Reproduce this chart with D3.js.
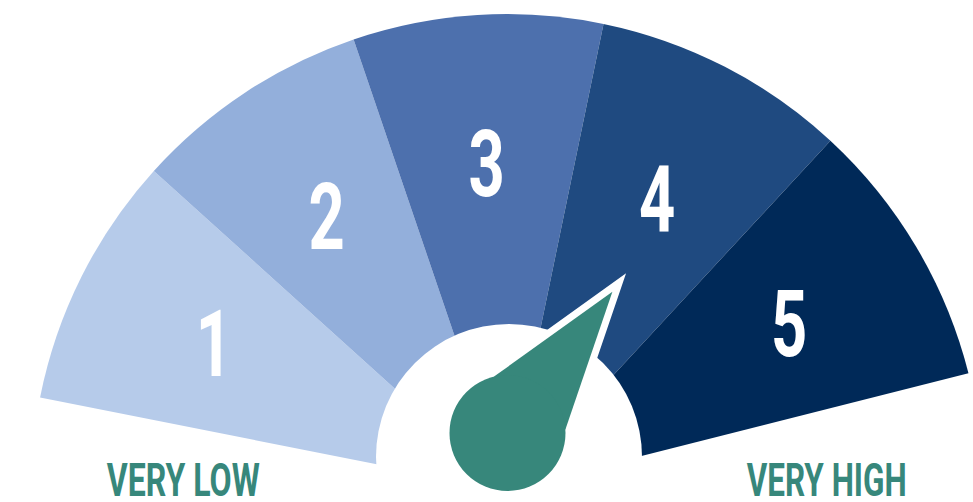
<!DOCTYPE html>
<html>
<head>
<meta charset="utf-8">
<script src="https://cdn.jsdelivr.net/npm/d3@7"></script>
<style>
  body { margin: 0; background: #fff; }
  #viz { width: 973px; height: 502px; }
  text { font-family: Roboto, "DejaVu Sans Condensed", sans-serif; font-weight: bold; }
</style>
</head>
<body>
<svg id="viz" width="973" height="502"></svg>
<script>
// gauge data
const levels = ["1", "2", "3", "4", "5"]
const level_colors = ["#b6cbea", "#93afdb", "#4d70ad", "#1f4a80", "#002958"]
const end_labels = ["VERY LOW", "VERY HIGH"]
const value = 3.8

const svg = d3.select("#viz"),
    cx = 507, cy = 490,
    outer_r = 476,
    label_r = 328,
    hub = { x: 507.5, y: 433, r: 58 },
    needle_len = 176,
    teal = "#37877b"

// boundaries between levels (degrees, clockwise from top)
const angle = d3.scaleLinear()
    .domain([0, 1, 2, 3, 4, 5])
    .range([-78.8, -47.9, -18.8, 11.7, 42.8, 75.8])

const rad = d => d * Math.PI / 180

const arc = d3.arc()
    .innerRadius(0)
    .outerRadius(outer_r)
    .startAngle(d => rad(angle(d.i)))
    .endAngle(d => rad(angle(d.i + 1)))

const segs = levels.map((l, i) => ({ label: l, i: i, color: level_colors[i] }))

const g = svg.append("g").attr("transform", `translate(${cx},${cy})`)

g.selectAll("path.seg")
    .data(segs)
    .enter().append("path")
    .attr("class", "seg")
    .attr("d", arc)
    .attr("fill", d => d.color)

g.selectAll("text.level")
    .data(segs)
    .enter().append("text")
    .attr("class", "level")
    .attr("transform", d => {
        let a = rad(angle(d.i + 0.5))
        return `translate(${label_r * Math.sin(a)},${-label_r * Math.cos(a)}) scale(0.68,1)`
    })
    .attr("text-anchor", "middle")
    .attr("dy", "0.355em")
    .attr("font-size", 93)
    .attr("font-weight", 900)
    .attr("fill", "#fff")
    .text(d => d.label)

// white hole in the middle
svg.append("circle")
    .attr("cx", 509).attr("cy", 457).attr("r", 133)
    .attr("fill", "#fff")

// needle
const na = rad(angle(value)),
    spread = rad(50)
const tip = [hub.x + needle_len * Math.sin(na), hub.y - needle_len * Math.cos(na)]
const base = [na - spread, na + spread].map(a => [hub.x + hub.r * Math.sin(a), hub.y - hub.r * Math.cos(a)])
const needle_path = d3.line()([base[0], tip, base[1]]) + "Z"

const needle = svg.append("g")
needle.append("path")
    .attr("d", needle_path)
    .attr("fill", "#fff")
    .attr("stroke", "#fff")
    .attr("stroke-width", 14)
    .attr("stroke-linejoin", "miter")
    .attr("stroke-miterlimit", 10)
needle.append("path")
    .attr("d", needle_path)
    .attr("fill", teal)
needle.append("circle")
    .attr("cx", hub.x).attr("cy", hub.y).attr("r", hub.r)
    .attr("fill", teal)

// end labels
svg.selectAll("text.end")
    .data(end_labels)
    .enter().append("text")
    .attr("class", "end")
    .attr("x", (d, i) => i == 0 ? 106.7 : 746.7)
    .attr("y", 496)
    .attr("font-size", 46)
    .attr("font-weight", 900)
    .attr("fill", teal)
    .attr("textLength", (d, i) => i == 0 ? 153 : 160)
    .attr("lengthAdjust", "spacingAndGlyphs")
    .text(d => d)
</script>
</body>
</html>
